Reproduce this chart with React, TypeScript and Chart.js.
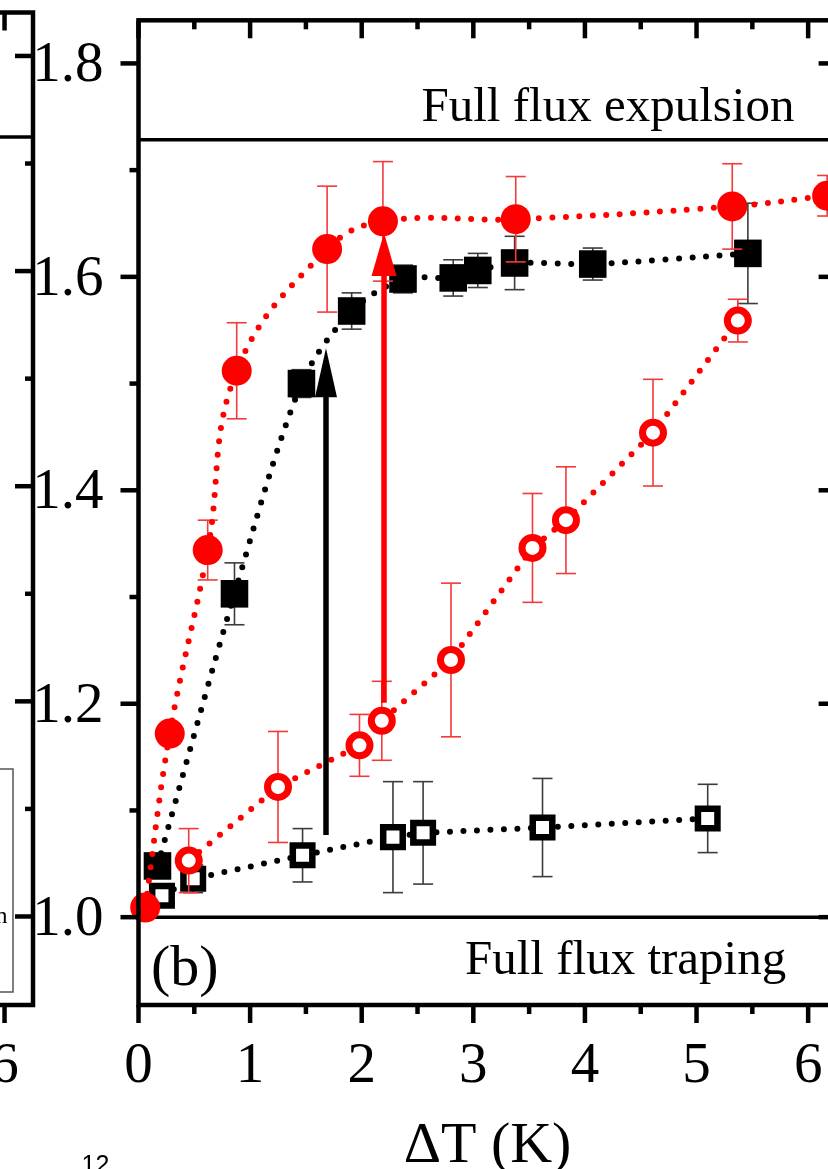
import React, { useEffect, useRef } from 'react';
import { Chart, registerables } from 'chart.js';

Chart.register(...registerables);

const SERIF = '"Liberation Serif", "Times New Roman", Times, serif';
const SANS = '"Liberation Sans", Arial, sans-serif';

// Axis ranges and ticks
const X_MIN = 0;
const X_MAX = 6.255;
const Y_MIN = 0.9177;
const Y_MAX = 1.8404;
const xMajorTicks = [0, 1, 2, 3, 4, 5, 6];
const xTickLabels = ['0', '1', '2', '3', '4', '5', '6'];
const xMinorTicks = [0.5, 1.5, 2.5, 3.5, 4.5, 5.5];
const yMajorTicks = [1.0, 1.2, 1.4, 1.6, 1.8];
const yTickLabels = ['1.0', '1.2', '1.4', '1.6', '1.8'];
const yMinorTicks = [1.1, 1.3, 1.5, 1.7];

// Filled red circles
const redSolidX = [0.06, 0.28, 0.62, 0.88, 1.69, 2.19, 3.38, 5.32, 6.17];
const redSolidY = [1.009, 1.172, 1.344, 1.512, 1.626, 1.652, 1.654, 1.666, 1.676];
const redSolidErr = [0.004, 0.006, 0.028, 0.045, 0.059, 0.056, 0.04, 0.04, 0.019];

// Filled black squares
const blackSolidX = [0.17, 0.86, 1.46, 1.91, 2.37, 2.82, 3.04, 3.37, 4.07, 5.46];
const blackSolidY = [1.048, 1.303, 1.5, 1.568, 1.598, 1.599, 1.606, 1.613, 1.612, 1.622];
const blackSolidErr = [0.005, 0.029, 0.013, 0.017, 0.013, 0.017, 0.016, 0.025, 0.015, 0.047];

// Open red circles
const redOpenX = [0.45, 1.25, 1.98, 2.18, 2.8, 3.53, 3.83, 4.61, 5.37];
const redOpenY = [1.053, 1.122, 1.161, 1.184, 1.241, 1.346, 1.372, 1.454, 1.559];
const redOpenErr = [0.03, 0.052, 0.029, 0.037, 0.072, 0.051, 0.05, 0.05, 0.02];

// Open black squares
const blackOpenX = [0.21, 0.49, 1.47, 2.28, 2.55, 3.62, 5.1];
const blackOpenY = [1.02, 1.036, 1.058, 1.075, 1.079, 1.084, 1.0925];
const blackOpenErr = [0.006, 0.013, 0.025, 0.052, 0.048, 0.046, 0.032];

// Limiting levels
const expulsionLevel = 1.7284;
const trappingLevel = 1.0;
const panelAExpulsionLevel = 1.7247;

// Arrows: x, start y, tip y
const blackArrow = [1.68, 1.077, 1.533];
const redArrow = [2.2, 1.201, 1.641];

// Texts
const xAxisTitle = 'ΔT (K)';
const expulsionText = 'Full flux expulsion';
const trappingText = 'Full flux traping';
const panelTag = '(b)';
const pageNumber = '12';
const legendTail = 'n';

const RED = '#ff0000';
const RED_ERR = '#f23a3a';
const BLACK_ERR = '#3c3c3c';

type Series = {
  xs: number[];
  ys: number[];
  errs: number[];
  color: string;
  errColor: string;
  pointStyle: 'circle' | 'rect';
  radius: number;
  filled: boolean;
  borderW: number;
  tension: number;
  order: number;
};

const seriesList: Series[] = [
  { xs: blackOpenX, ys: blackOpenY, errs: blackOpenErr, color: '#000', errColor: BLACK_ERR, pointStyle: 'rect', radius: 13.8, filled: false, borderW: 6.5, tension: 0, order: 4 },
  { xs: blackSolidX, ys: blackSolidY, errs: blackSolidErr, color: '#000', errColor: BLACK_ERR, pointStyle: 'rect', radius: 19.5, filled: true, borderW: 0, tension: 0.3, order: 3 },
  { xs: redOpenX, ys: redOpenY, errs: redOpenErr, color: RED, errColor: RED_ERR, pointStyle: 'circle', radius: 10.5, filled: false, borderW: 7, tension: 0, order: 2 },
  { xs: redSolidX, ys: redSolidY, errs: redSolidErr, color: RED, errColor: RED_ERR, pointStyle: 'circle', radius: 15, filled: true, borderW: 0, tension: 0.4, order: 1 },
];

function seg(ctx: CanvasRenderingContext2D, x1: number, y1: number, x2: number, y2: number) {
  ctx.beginPath();
  ctx.moveTo(x1, y1);
  ctx.lineTo(x2, y2);
  ctx.stroke();
}

// Box, ticks (outward on bottom/left, inward on top/right) and tick labels
function drawFrame(chart: any) {
  const { ctx, chartArea } = chart;
  const { left, right, top, bottom } = chartArea;
  const sx = chart.scales.x;
  const sy = chart.scales.y;
  ctx.save();
  ctx.strokeStyle = '#000';
  ctx.lineWidth = 4.5;
  ctx.lineCap = 'butt';
  for (const v of yMajorTicks) {
    const y = sy.getPixelForValue(v);
    seg(ctx, left, y, left - 18, y);
    seg(ctx, right, y, right - 18, y);
  }
  for (const v of yMinorTicks) {
    const y = sy.getPixelForValue(v);
    seg(ctx, left, y, left - 9, y);
    seg(ctx, right, y, right - 8, y);
  }
  for (const v of xMajorTicks) {
    const x = sx.getPixelForValue(v);
    seg(ctx, x, bottom, x, bottom + 18);
    seg(ctx, x, top, x, top + 18);
  }
  for (const v of xMinorTicks) {
    const x = sx.getPixelForValue(v);
    seg(ctx, x, bottom, x, bottom + 9);
    seg(ctx, x, top, x, top + 9);
  }
  ctx.lineJoin = 'miter';
  ctx.strokeRect(left, top, right - left, bottom - top);

  ctx.fillStyle = '#000';
  ctx.font = `57px ${SERIF}`;
  ctx.textBaseline = 'alphabetic';
  ctx.textAlign = 'right';
  yMajorTicks.forEach((v, i) => ctx.fillText(yTickLabels[i], left - 35, sy.getPixelForValue(v) + 18));
  ctx.textAlign = 'center';
  xMajorTicks.forEach((v, i) => ctx.fillText(xTickLabels[i], sx.getPixelForValue(v), bottom + 77));
  ctx.restore();
}

function drawLevel(chart: any, level: number, width: number) {
  const { ctx, chartArea } = chart;
  const y = chart.scales.y.getPixelForValue(level);
  ctx.save();
  ctx.strokeStyle = '#000';
  ctx.lineWidth = width;
  seg(ctx, chartArea.left, y, chartArea.right, y);
  ctx.restore();
}

function drawArrow(chart: any, spec: number[], color: string, lineW: number, headW: number, headL: number) {
  const { ctx } = chart;
  const x = chart.scales.x.getPixelForValue(spec[0]);
  const y0 = chart.scales.y.getPixelForValue(spec[1]);
  const tip = chart.scales.y.getPixelForValue(spec[2]);
  ctx.save();
  ctx.strokeStyle = color;
  ctx.fillStyle = color;
  ctx.lineWidth = lineW;
  seg(ctx, x, y0, x, tip + headL - 2);
  ctx.beginPath();
  ctx.moveTo(x, tip);
  ctx.lineTo(x - headW / 2, tip + headL);
  ctx.lineTo(x + headW / 2, tip + headL);
  ctx.closePath();
  ctx.fill();
  ctx.restore();
}

const panelBPlugin = {
  id: 'panelB',
  beforeDatasetsDraw(chart: any) {
    drawLevel(chart, expulsionLevel, 3.5);
    drawLevel(chart, trappingLevel, 3.5);
  },
  beforeDatasetDraw(chart: any, args: any) {
    const s = seriesList[args.index];
    if (!s) return;
    const { ctx } = chart;
    const sx = chart.scales.x;
    const sy = chart.scales.y;
    ctx.save();
    ctx.strokeStyle = s.errColor;
    ctx.lineWidth = 1.6;
    s.xs.forEach((xv, i) => {
      const x = sx.getPixelForValue(xv);
      const yt = sy.getPixelForValue(s.ys[i] + s.errs[i]);
      const yb = sy.getPixelForValue(s.ys[i] - s.errs[i]);
      seg(ctx, x, yt, x, yb);
      seg(ctx, x - 10, yt, x + 10, yt);
      seg(ctx, x - 10, yb, x + 10, yb);
    });
    ctx.restore();
  },
  afterDatasetsDraw(chart: any) {
    drawArrow(chart, blackArrow, '#000', 5.5, 22, 49);
    drawArrow(chart, redArrow, RED, 5.5, 25, 43);
  },
  afterDraw(chart: any) {
    drawFrame(chart);
    const { ctx, chartArea } = chart;
    const { left, right, top, bottom } = chartArea;
    ctx.save();
    ctx.fillStyle = '#000';
    ctx.textBaseline = 'alphabetic';
    ctx.textAlign = 'left';
    ctx.font = `49px ${SERIF}`;
    ctx.fillText(expulsionText, left + 283, top + 100.5);
    ctx.fillText(trappingText, left + 326.5, bottom - 31);
    ctx.font = `58px ${SERIF}`;
    ctx.fillText(panelTag, left + 12.5, bottom - 20);
    ctx.textAlign = 'center';
    ctx.fillText(xAxisTitle, (left + right) / 2, bottom + 157);
    ctx.textAlign = 'left';
    ctx.font = `25px ${SANS}`;
    ctx.fillText(pageNumber, left - 57, bottom + 168);
    ctx.restore();
  },
};

const panelAPlugin = {
  id: 'panelA',
  beforeDatasetsDraw(chart: any) {
    drawLevel(chart, panelAExpulsionLevel, 3.5);
  },
  afterDraw(chart: any) {
    drawFrame(chart);
    const { ctx, chartArea } = chart;
    const { right } = chartArea;
    ctx.save();
    // legend box
    ctx.strokeStyle = '#555';
    ctx.lineWidth = 1.5;
    ctx.strokeRect(right - 260, 769, 240, 223);
    ctx.fillStyle = '#000';
    ctx.font = `24px ${SERIF}`;
    ctx.textAlign = 'right';
    ctx.textBaseline = 'alphabetic';
    ctx.fillText(legendTail, right - 25.5, 923);
    ctx.restore();
  },
};

function scalesConfig() {
  return {
    x: { type: 'linear' as const, min: X_MIN, max: X_MAX, display: false },
    y: { type: 'linear' as const, min: Y_MIN, max: Y_MAX, display: false },
  };
}

export default function App() {
  const refA = useRef<HTMLCanvasElement>(null);
  const refB = useRef<HTMLCanvasElement>(null);

  useEffect(() => {
    const datasets = seriesList.map((s) => ({
      data: s.xs.map((x, i) => ({ x, y: s.ys[i] })),
      borderColor: s.color,
      borderWidth: 6,
      borderDash: [0, 13.5],
      borderCapStyle: 'round' as const,
      tension: s.tension,
      pointStyle: s.pointStyle,
      pointRadius: s.radius,
      pointHoverRadius: s.radius,
      pointBackgroundColor: s.filled ? s.color : '#ffffff',
      pointBorderColor: s.color,
      pointBorderWidth: s.borderW,
      clip: false as const,
      order: s.order,
    }));

    const chartB = new Chart(refB.current as HTMLCanvasElement, {
      type: 'line',
      data: { datasets },
      options: {
        responsive: false,
        animation: false,
        events: [],
        layout: { padding: { left: 118.5, right: 23.4, top: 12.5, bottom: 164 } },
        scales: scalesConfig(),
        plugins: { legend: { display: false }, tooltip: { enabled: false } },
      },
      plugins: [panelBPlugin],
    } as any);

    const chartA = new Chart(refA.current as HTMLCanvasElement, {
      type: 'line',
      data: { datasets: [] },
      options: {
        responsive: false,
        animation: false,
        events: [],
        layout: { padding: { left: 35, right: 27, top: 12.5, bottom: 164 } },
        scales: scalesConfig(),
        plugins: { legend: { display: false }, tooltip: { enabled: false } },
      },
      plugins: [panelAPlugin],
    } as any);

    return () => {
      chartA.destroy();
      chartB.destroy();
    };
  }, []);

  return (
    <div
      style={{
        position: 'fixed',
        left: 0,
        top: 0,
        width: 828,
        height: 1169,
        overflow: 'hidden',
        background: '#ffffff',
      }}
    >
      <canvas ref={refA} width={760} height={1169} style={{ position: 'absolute', left: -700, top: 0 }} />
      <canvas ref={refB} width={840} height={1169} style={{ position: 'absolute', left: 20, top: 0 }} />
    </div>
  );
}
